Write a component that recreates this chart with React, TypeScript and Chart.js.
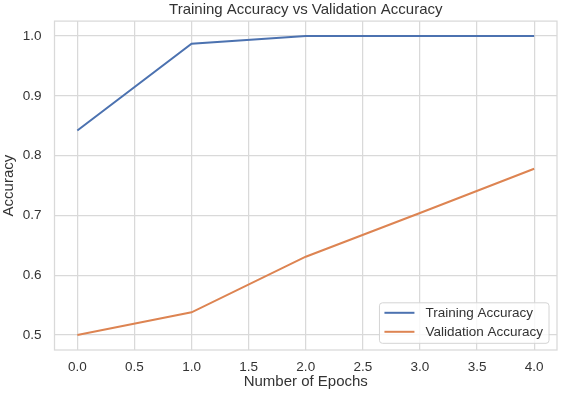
import React, { useEffect, useRef } from "react";
import { Chart, registerables } from "chart.js";

Chart.register(...registerables);

const epochs = [0, 1, 2, 3, 4];
const trainingAccuracy = [0.842, 0.987, 1.0, 1.0, 1.0];
const validationAccuracy = [0.5, 0.538, 0.631, 0.704, 0.778];
const xTicks = [0, 0.5, 1, 1.5, 2, 2.5, 3, 3.5, 4];
const yTicks = [0.5, 0.6, 0.7, 0.8, 0.9, 1.0];
const seriesLabels = ["Training Accuracy", "Validation Accuracy"];
const seriesColors = ["#4C72B0", "#DD8452"];
const chartTitle = "Training Accuracy vs Validation Accuracy";
const xTitle = "Number of Epochs";
const yTitle = "Accuracy";

const FONT = "'Liberation Sans', Arial, Helvetica, sans-serif";
const TEXT = "#333333";
const GRID = "#d9d9d9";

const framePlugin = {
  id: "frame",
  beforeDatasetsDraw(chart: any) {
    const { ctx, chartArea } = chart;
    ctx.save();
    ctx.strokeStyle = GRID;
    ctx.lineWidth = 1.25;
    ctx.strokeRect(
      chartArea.left,
      chartArea.top,
      chartArea.right - chartArea.left,
      chartArea.bottom - chartArea.top
    );
    ctx.restore();
  },
};

const legendPlugin = {
  id: "insideLegend",
  afterDatasetsDraw(chart: any) {
    const { ctx, chartArea } = chart;
    const items = chart.data.datasets;
    ctx.save();
    ctx.font = `13.5px ${FONT}`;
    const maxW = Math.max(...items.map((d: any) => ctx.measureText(d.label).width));
    const padL = 5, lineLen = 30, gap = 11, padR = 6, rowH = 19, padT = 10, padB = 11.5;
    const w = padL + lineLen + gap + maxW + padR;
    const h = padT + rowH * (items.length - 1) + padB;
    const right = chartArea.right - 8;
    const bottom = chartArea.bottom - 6.7;
    const left = right - w;
    const top = bottom - h;
    ctx.beginPath();
    (ctx as any).roundRect(left, top, w, h, 3);
    ctx.fillStyle = "rgba(255,255,255,0.8)";
    ctx.fill();
    ctx.strokeStyle = "#d4d4d4";
    ctx.lineWidth = 1;
    ctx.stroke();
    items.forEach((d: any, i: number) => {
      const y = top + padT + i * rowH;
      ctx.beginPath();
      ctx.strokeStyle = d.borderColor;
      ctx.lineWidth = 2;
      ctx.moveTo(left + padL, y);
      ctx.lineTo(left + padL + lineLen, y);
      ctx.stroke();
      ctx.fillStyle = TEXT;
      ctx.textBaseline = "middle";
      ctx.textAlign = "left";
      ctx.fillText(d.label, left + padL + lineLen + gap, y + 0.5);
    });
    ctx.restore();
  },
};

export default function App() {
  const canvasRef = useRef<HTMLCanvasElement | null>(null);

  useEffect(() => {
    if (!canvasRef.current) return;
    const xMinData = Math.min(...epochs);
    const xMaxData = Math.max(...epochs);
    const xPad = (xMaxData - xMinData) * 0.05;
    const allY = [...trainingAccuracy, ...validationAccuracy];
    const yMinData = Math.min(...allY);
    const yMaxData = Math.max(...allY);
    const yPad = (yMaxData - yMinData) * 0.05;

    const series = [trainingAccuracy, validationAccuracy];
    const chart = new Chart(canvasRef.current, {
      type: "line",
      data: {
        datasets: series.map((s, i) => ({
          label: seriesLabels[i],
          data: epochs.map((e, j) => ({ x: e, y: s[j] })),
          borderColor: seriesColors[i],
          backgroundColor: seriesColors[i],
          borderWidth: 2,
          pointRadius: 0,
          tension: 0,
          fill: false,
        })),
      },
      options: {
        animation: false,
        responsive: false,
        devicePixelRatio: 1,
        layout: { padding: { left: 0, right: 6, top: 0, bottom: 0 } },
        plugins: {
          legend: { display: false },
          tooltip: { enabled: false },
          title: {
            display: true,
            text: chartTitle,
            fullSize: false,
            color: TEXT,
            font: { family: FONT, size: 15, weight: "normal", lineHeight: 1.0 },
            padding: { top: 0, bottom: 4 },
          },
        },
        scales: {
          x: {
            type: "linear",
            min: xMinData - xPad,
            max: xMaxData + xPad,
            afterBuildTicks: (scale: any) => {
              scale.ticks = xTicks.map((v) => ({ value: v }));
            },
            afterFit: (scale: any) => {
              scale.height = 44;
            },
            grid: { color: GRID, lineWidth: 1.25, drawTicks: false },
            border: { display: false },
            ticks: {
              color: TEXT,
              font: { family: FONT, size: 13.5 },
              padding: 9,
              maxRotation: 0,
              autoSkip: false,
              callback: (v: any) => Number(v).toFixed(1),
            },
            title: {
              display: true,
              text: xTitle,
              color: TEXT,
              font: { family: FONT, size: 15 },
              padding: { top: 0, bottom: 3 },
            },
          },
          y: {
            type: "linear",
            min: yMinData - yPad,
            max: yMaxData + yPad,
            afterBuildTicks: (scale: any) => {
              scale.ticks = yTicks.map((v) => ({ value: v }));
            },
            afterFit: (scale: any) => {
              scale.width = 54.5;
            },
            grid: { color: GRID, lineWidth: 1.25, drawTicks: false },
            border: { display: false },
            ticks: {
              color: TEXT,
              font: { family: FONT, size: 13.5 },
              padding: 13,
              autoSkip: false,
              callback: (v: any) => Number(v).toFixed(1),
            },
            title: {
              display: true,
              text: yTitle,
              color: TEXT,
              font: { family: FONT, size: 15 },
              padding: { top: 0, bottom: 0 },
            },
          },
        },
      },
      plugins: [framePlugin, legendPlugin],
    } as any);
    return () => chart.destroy();
  }, []);

  return (
    <div style={{ position: "absolute", left: 0, top: 0, width: 563, height: 394, background: "#fff" }}>
      <canvas ref={canvasRef} width={563} height={394} />
    </div>
  );
}
